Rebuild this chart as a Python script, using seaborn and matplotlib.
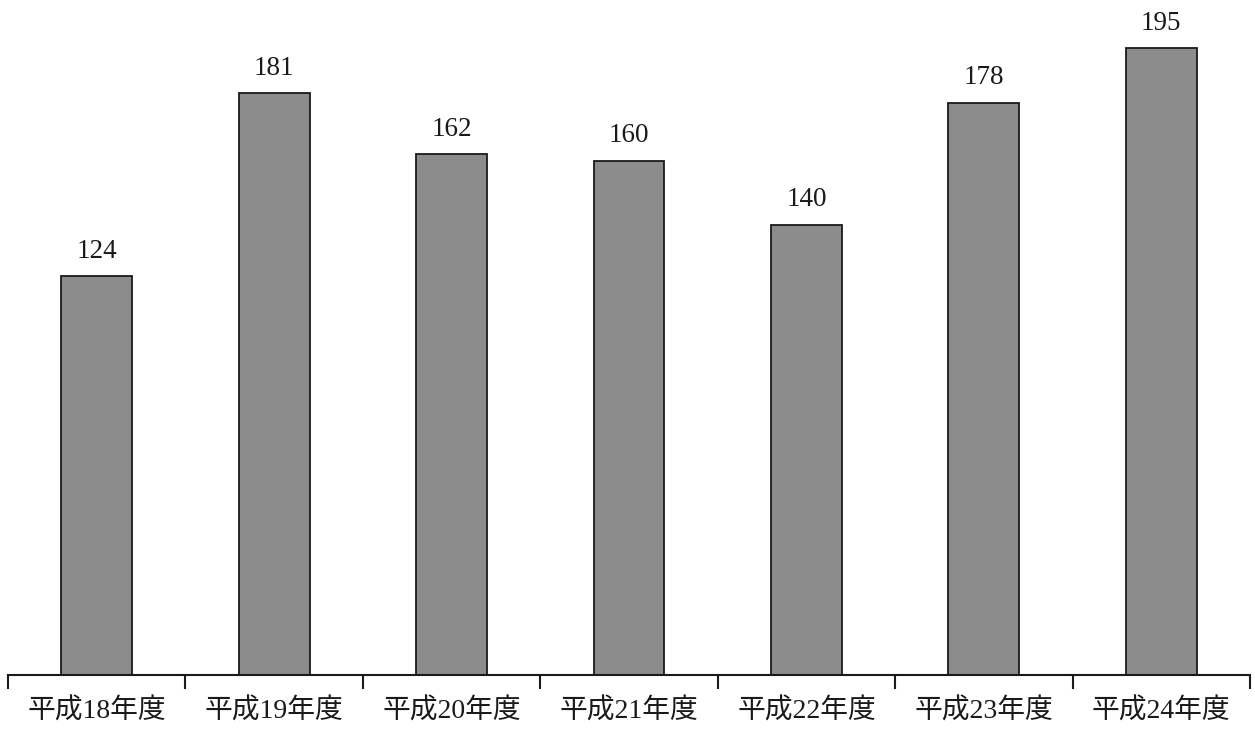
import numpy as np
import seaborn as sns
import matplotlib.pyplot as plt
from matplotlib.ticker import FixedLocator

# data
years = ['平成18年度', '平成19年度', '平成20年度', '平成21年度',
         '平成22年度', '平成23年度', '平成24年度']
counts = [124, 181, 162, 160, 140, 178, 195]

sns.set_style('white')
plt.rcParams['font.family'] = ['Liberation Serif', 'Noto Sans CJK JP', 'DejaVu Sans']

fig = plt.figure(figsize=(12.55, 7.33), dpi=100)
ax = fig.add_axes([8 / 1255, 58 / 733, 1242 / 1255, 675 / 733])

sns.barplot(x=years, y=counts, ax=ax, width=0.4, color='#8c8c8c',
            edgecolor='#1a1a1a', linewidth=1.3, saturation=1)

for i, v in enumerate(counts):
    ax.annotate(str(v), (i, v), xytext=(0, 9), textcoords='offset points',
                ha='center', va='bottom', fontsize=19.5, color='#1a1a1a')

ax.set_xlim(-0.5, len(years) - 0.5)
ax.set_ylim(0, 210)
ax.set_yticks([])
for s in ['left', 'top', 'right']:
    ax.spines[s].set_visible(False)
ax.spines['bottom'].set_color('#1a1a1a')
ax.spines['bottom'].set_linewidth(1.5)

ax.xaxis.set_minor_locator(FixedLocator(np.arange(-0.5, len(years), 1.0)))
ax.tick_params(axis='x', which='major', length=0, pad=17, labelsize=20,
               colors='#1a1a1a')
ax.tick_params(axis='x', which='minor', length=10, width=1.5, direction='out',
               color='#1a1a1a', bottom=True)
ax.set_xlabel('')
ax.set_ylabel('')

fig.savefig('out.png', dpi=100)
